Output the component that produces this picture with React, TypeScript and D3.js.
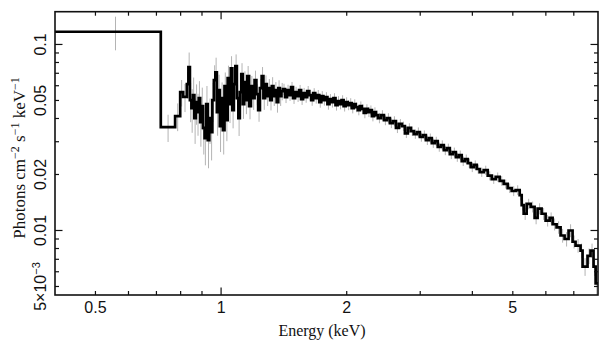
import React from "react";
import * as d3 from "d3";

// ---- data: spectral bins (low edge, keV), flux (photons cm^-2 s^-1 keV^-1), 1-sigma error ----
const binLo = [
  // 0.40 - 0.83
  0.400, 0.717, 0.776, 0.798, 0.811, 0.828,
  // 0.835 - 0.90
  0.835, 0.842, 0.849, 0.856, 0.863, 0.870, 0.877, 0.884, 0.891, 0.898,
  // 0.905 - 1.0
  0.905, 0.913, 0.921, 0.929, 0.937, 0.945, 0.953, 0.961, 0.969, 0.977, 0.985, 0.993,
  // 1.0 - 1.15
  1.001, 1.010, 1.019, 1.028, 1.037, 1.046, 1.055, 1.064, 1.073, 1.082, 1.091, 1.100,
  1.109, 1.118, 1.127, 1.136, 1.145,
  // 1.15 - 1.40
  1.155, 1.167, 1.179, 1.191, 1.203, 1.215, 1.227, 1.239, 1.251, 1.263, 1.275,
  1.287, 1.299, 1.311, 1.323, 1.335, 1.347, 1.359, 1.371, 1.383, 1.395,
  // 1.40 - 2.40
  1.407, 1.423, 1.439, 1.455, 1.471, 1.487, 1.504, 1.521, 1.538, 1.555,
  1.572, 1.590, 1.608, 1.626, 1.644, 1.662, 1.681, 1.700, 1.719, 1.738,
  1.758, 1.778, 1.798, 1.818, 1.838, 1.859, 1.880, 1.901, 1.922, 1.944,
  1.966, 1.988, 2.010, 2.033, 2.056, 2.079, 2.102, 2.126, 2.150, 2.174,
  2.198, 2.223, 2.248, 2.273, 2.298, 2.324, 2.350, 2.376,
  // 2.4 - 8
  2.415, 2.456, 2.496, 2.538, 2.580, 2.624, 2.667,
  2.712, 2.757, 2.802, 2.849, 2.896, 2.945, 2.994, 3.044, 3.095, 3.146,
  3.198, 3.251, 3.305, 3.361, 3.417, 3.474, 3.532, 3.591, 3.652, 3.711,
  3.772, 3.835, 3.900, 3.965, 4.031, 4.098, 4.166, 4.259, 4.354, 4.451,
  4.550, 4.651, 4.755, 4.860, 4.969, 5.080, 5.193, 5.251, 5.309, 5.397,
  5.517, 5.639, 5.733, 5.861, 5.992, 6.126, 6.228, 6.366, 6.508, 6.653,
  6.801, 6.953, 7.068, 7.266, 7.347, 7.551, 7.677, 7.805, 7.896,
];
const lastBinHi = 8.0;

const flux = [
  0.117, 0.0359, 0.0412, 0.0554, 0.0523, 0.0612,
  0.0755, 0.0502, 0.0455, 0.0534, 0.0402, 0.0490, 0.0433, 0.0515, 0.0382, 0.0466,
  0.0356, 0.0314, 0.0478, 0.0306, 0.0402, 0.0338, 0.0502, 0.0643, 0.0709, 0.0433, 0.0568, 0.0364,
  0.0515, 0.0346, 0.0597, 0.0392, 0.0659, 0.0478, 0.0745, 0.0444, 0.0612, 0.0764, 0.0515, 0.0402,
  0.0554, 0.0693, 0.0478, 0.0627, 0.0502,
  0.0676, 0.0466, 0.0597, 0.0515, 0.0643, 0.0541, 0.0444, 0.0582, 0.0676, 0.0515, 0.0612,
  0.0527, 0.0582, 0.0502, 0.0597, 0.0527, 0.0568, 0.0490, 0.0582, 0.0527, 0.0561,
  0.0575, 0.0521, 0.0568, 0.0534, 0.0589, 0.0515, 0.0554, 0.0527, 0.0568, 0.0508,
  0.0547, 0.0521, 0.0561, 0.0534, 0.0502, 0.0547, 0.0515, 0.0534, 0.0490, 0.0527,
  0.0502, 0.0521, 0.0478, 0.0508, 0.0490, 0.0515, 0.0472, 0.0496, 0.0478, 0.0502,
  0.0466, 0.0490, 0.0472, 0.0484, 0.0455, 0.0478, 0.0460, 0.0444, 0.0466, 0.0450,
  0.0428, 0.0450, 0.0433, 0.0444, 0.0412, 0.0433, 0.0417, 0.0402,
  0.0417, 0.0392, 0.0402, 0.0378, 0.0387, 0.0356, 0.0374,
  0.0364, 0.0333, 0.0356, 0.0342, 0.0330, 0.0338, 0.0318, 0.0326, 0.0306, 0.0314,
  0.0295, 0.0302, 0.0281, 0.0288, 0.0270, 0.0277, 0.0257, 0.0264, 0.0248, 0.0254,
  0.0236, 0.0242, 0.0230, 0.0219, 0.0225, 0.0214, 0.0206, 0.0211, 0.0197, 0.0189,
  0.0194, 0.0185, 0.0178, 0.0169, 0.0163, 0.0165, 0.0155, 0.0137, 0.0123, 0.0139,
  0.0134, 0.0117, 0.0131, 0.0123, 0.0113, 0.0117, 0.0108, 0.0104, 0.0094, 0.0090,
  0.0100, 0.0087, 0.0083, 0.0078, 0.0064, 0.0073, 0.0078, 0.0064, 0.0052,
];

const fluxErr = [
  0.024, 0.006, 0.007, 0.009, 0.009, 0.010,
  0.015, 0.012, 0.012, 0.013, 0.011, 0.012, 0.011, 0.012, 0.010, 0.012,
  0.010, 0.009, 0.012, 0.009, 0.011, 0.010, 0.012, 0.013, 0.014, 0.011, 0.012, 0.010,
  0.011, 0.009, 0.011, 0.009, 0.011, 0.010, 0.012, 0.009, 0.010, 0.012, 0.009, 0.008,
  0.009, 0.010, 0.008, 0.009, 0.008,
  0.009, 0.007, 0.008, 0.007, 0.008, 0.007, 0.006, 0.007, 0.008, 0.007, 0.007,
  0.006, 0.007, 0.006, 0.007, 0.006, 0.006, 0.006, 0.006, 0.006, 0.006,
  0.0040, 0.0037, 0.0039, 0.0037, 0.0040, 0.0036, 0.0038, 0.0036, 0.0038, 0.0035,
  0.0037, 0.0035, 0.0037, 0.0035, 0.0034, 0.0035, 0.0034, 0.0035, 0.0033, 0.0034,
  0.0033, 0.0033, 0.0032, 0.0033, 0.0032, 0.0032, 0.0031, 0.0031, 0.0030, 0.0031,
  0.0030, 0.0030, 0.0029, 0.0030, 0.0029, 0.0029, 0.0028, 0.0028, 0.0028, 0.0027,
  0.0027, 0.0027, 0.0026, 0.0026, 0.0026, 0.0026, 0.0025, 0.0025,
  0.0026, 0.0024, 0.0025, 0.0023, 0.0024, 0.0022, 0.0023,
  0.0021, 0.0019, 0.0021, 0.0020, 0.0019, 0.0020, 0.0018, 0.0019, 0.0018, 0.0018,
  0.0017, 0.0017, 0.0016, 0.0017, 0.0016, 0.0016, 0.0015, 0.0015, 0.0014, 0.0015,
  0.0014, 0.0014, 0.0013, 0.0013, 0.0013, 0.0012, 0.0012, 0.0012, 0.0011, 0.0011,
  0.0011, 0.0011, 0.0010, 0.0010, 0.0010, 0.0010, 0.0010, 0.0009, 0.0009, 0.0009,
  0.0009, 0.0009, 0.0009, 0.0009, 0.0008, 0.0008, 0.0008, 0.0008, 0.0008, 0.0008,
  0.0008, 0.0007, 0.0007, 0.0007, 0.0007, 0.0007, 0.0007, 0.0007, 0.0008,
];

// ---- axes ----
const xDomain = [0.4, 8];
const yDomain = [0.0045, 0.15];
const xLabelTicks = [0.5, 1, 2, 5];
const xLabelTexts = ["0.5", "1", "2", "5"];
const xDecadeTicks = [1];
const xMinorTicks = [0.5, 0.6, 0.7, 0.8, 0.9, 2, 3, 4, 5, 6, 7];
const yLabelTicks = [0.1, 0.05, 0.02, 0.01, 0.005];
const yLabelTexts = ["0.1", "0.05", "0.02", "0.01", "5×10|−3"];
const yDecadeTicks = [0.1, 0.01];
const yMinorTicks = [0.09, 0.08, 0.07, 0.06, 0.05, 0.04, 0.03, 0.02, 0.009, 0.008, 0.007, 0.006, 0.005];

const W = 609;
const H = 357;
const L = 55, R = 598, T = 11.7, B = 295;

export default function App() {
  const x = d3.scaleLog().domain(xDomain).range([L, R]);
  const y = d3.scaleLog().domain(yDomain).range([B, T]);

  const n = Math.min(binLo.length, flux.length, fluxErr.length);
  const bins = binLo.slice(0, n).map((lo, i) => ({
    lo,
    hi: i < n - 1 ? binLo[i + 1] : lastBinHi,
    v: flux[i],
    e: fluxErr[i],
  }));

  const pts: [number, number][] = bins.map((b) => [b.lo, b.v]);
  pts.push([lastBinHi, bins[bins.length - 1].v]);
  const stepPath = d3
    .line<[number, number]>()
    .x((d) => x(d[0]))
    .y((d) => y(d[1]))
    .curve(d3.curveStepAfter)(pts) as string;

  const ink = "#111";
  const longT = 7.5;
  const shortT = 4;
  const tickFont = "'Liberation Sans', Arial, Helvetica, sans-serif";
  const titleFont = "'Liberation Serif', 'Times New Roman', Times, serif";

  return (
    <svg width={W} height={H} style={{ position: "absolute", left: 0, top: 0, background: "#fff" }}>
      <defs>
        <clipPath id="plotclip">
          <rect x={L} y={T} width={R - L} height={B - T} />
        </clipPath>
      </defs>
      <rect x={0} y={0} width={W} height={H} fill="#fff" />

      {/* error bars */}
      <g clipPath="url(#plotclip)" stroke="#b4b4b4" strokeWidth={1}>
        {bins.map((b, i) => {
          const xc = x((b.lo + b.hi) / 2);
          return (
            <line
              key={i}
              x1={xc}
              x2={xc}
              y1={y(b.v + b.e)}
              y2={y(Math.max(b.v - b.e, 1e-4))}
            />
          );
        })}
      </g>

      {/* step spectrum */}
      <g clipPath="url(#plotclip)">
        <path d={stepPath} fill="none" stroke="#000" strokeWidth={2.7} strokeLinejoin="miter" />
      </g>

      {/* ticks */}
      <g stroke={ink} strokeWidth={1.2}>
        {xMinorTicks.map((t, i) => (
          <g key={"xm" + i}>
            <line x1={x(t)} x2={x(t)} y1={B} y2={B - shortT} />
            <line x1={x(t)} x2={x(t)} y1={T} y2={T + shortT} />
          </g>
        ))}
        {xDecadeTicks.map((t, i) => (
          <g key={"xd" + i}>
            <line x1={x(t)} x2={x(t)} y1={B} y2={B - longT} />
            <line x1={x(t)} x2={x(t)} y1={T} y2={T + longT} />
          </g>
        ))}
        {yMinorTicks.map((t, i) => (
          <g key={"ym" + i}>
            <line x1={L} x2={L + shortT} y1={y(t)} y2={y(t)} />
            <line x1={R} x2={R - shortT} y1={y(t)} y2={y(t)} />
          </g>
        ))}
        {yDecadeTicks.map((t, i) => (
          <g key={"yd" + i}>
            <line x1={L} x2={L + longT} y1={y(t)} y2={y(t)} />
            <line x1={R} x2={R - longT} y1={y(t)} y2={y(t)} />
          </g>
        ))}
      </g>

      {/* frame */}
      <rect x={L} y={T} width={R - L} height={B - T} fill="none" stroke={ink} strokeWidth={1.6} />

      {/* x tick labels */}
      <g fontFamily={tickFont} fontSize={16} fill={ink} textAnchor="middle">
        {xLabelTicks.map((t, i) => (
          <text key={"xl" + i} x={x(t)} y={313}>
            {xLabelTexts[i]}
          </text>
        ))}
      </g>

      {/* y tick labels */}
      <g fontFamily={tickFont} fontSize={16} fill={ink}>
        {yLabelTicks.map((t, i) => {
          const parts = yLabelTexts[i].split("|");
          return (
            <text
              key={"yl" + i}
              transform={`translate(46,${y(t)}) rotate(-90)`}
              textAnchor="middle"
            >
              {parts[0]}
              {parts[1] ? (
                <tspan dy={-6} fontSize={11}>
                  {parts[1]}
                </tspan>
              ) : null}
            </text>
          );
        })}
      </g>

      {/* axis titles */}
      <text x={322} y={336} fontFamily={titleFont} fontSize={16} fill={ink} textAnchor="middle">
        Energy (keV)
      </text>
      <text
        transform={`translate(25,158) rotate(-90)`}
        fontFamily={titleFont}
        fontSize={17}
        fill={ink}
        textAnchor="middle"
      >
        {"Photons cm"}
        <tspan dy={-6.5} fontSize={12}>{"−2"}</tspan>
        <tspan dy={6.5}>{" s"}</tspan>
        <tspan dy={-6.5} fontSize={12}>{"−1"}</tspan>
        <tspan dy={6.5}>{" keV"}</tspan>
        <tspan dy={-6.5} fontSize={12}>{"−1"}</tspan>
      </text>
    </svg>
  );
}
